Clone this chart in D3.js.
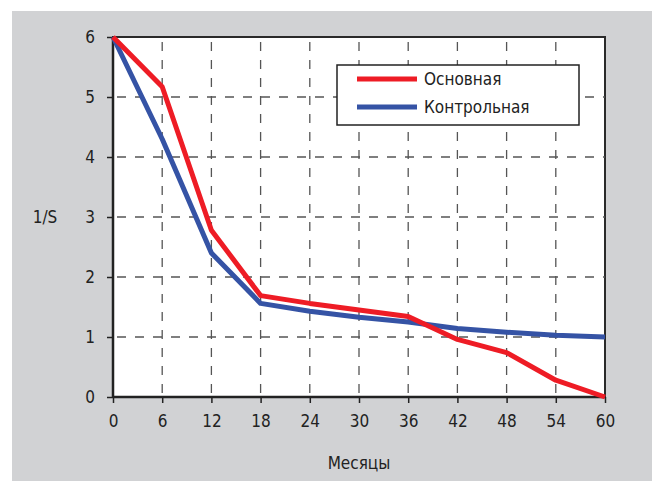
<!DOCTYPE html>
<html>
<head>
<meta charset="utf-8">
<script src="https://cdn.jsdelivr.net/npm/d3@7"></script>
<style>
  body { margin: 0; background: #fff; }
  text { font-family: "Liberation Sans Narrow", "DejaVu Sans Condensed", "Roboto", sans-serif; fill: #222; }
</style>
</head>
<body>
<div class="viz"></div>
<script>
const w = 652;
const h = 481;

const months = [0, 6, 12, 18, 24, 30, 36, 42, 48, 54, 60];
const mainValues = [6, 5.17, 2.78, 1.69, 1.56, 1.45, 1.34, 0.96, 0.74, 0.28, 0];
const controlValues = [6, 4.3, 2.4, 1.56, 1.43, 1.33, 1.25, 1.14, 1.08, 1.03, 1.0];
const yTicks = [0, 1, 2, 3, 4, 5, 6];
const seriesNames = ["Основная", "Контрольная"];
const seriesColors = ["#ee1c25", "#3553a5"];

const svg = d3.select(".viz")
    .append("svg")
    .attr("width", w)
    .attr("height", h);

// grey panel
svg.append("rect")
    .attr("x", 12).attr("y", 11)
    .attr("width", w - 12).attr("height", h - 11)
    .style("fill", "#d1d2d4");

const x = d3.scaleLinear().domain([0, 60]).range([113, 605]);
const y = d3.scaleLinear().domain([0, 6]).range([397, 37]);

// plot area
svg.append("rect")
    .attr("x", x(0)).attr("y", y(6))
    .attr("width", x(60) - x(0)).attr("height", y(0) - y(6))
    .style("fill", "#fff")
    .style("stroke", "#2a2a2a")
    .style("stroke-width", 2);

// dashed grid
svg.selectAll(".vgrid")
    .data(months.slice(1, -1))
    .enter()
    .append("line")
    .attr("x1", d => x(d)).attr("x2", d => x(d))
    .attr("y1", y(0)).attr("y2", y(6))
    .style("stroke", "#555")
    .style("stroke-width", 1.3)
    .style("stroke-dasharray", "9,9")
    .style("stroke-dashoffset", -4);

svg.selectAll(".hgrid")
    .data(yTicks.slice(1, -1))
    .enter()
    .append("line")
    .attr("x1", x(0)).attr("x2", x(60))
    .attr("y1", d => y(d)).attr("y2", d => y(d))
    .style("stroke", "#555")
    .style("stroke-width", 1.3)
    .style("stroke-dasharray", "9,9")
    .style("stroke-dashoffset", -4);

// axes
const xAxis = d3.axisBottom(x).tickValues(months).tickSize(6).tickPadding(12);
const yAxis = d3.axisLeft(y).tickValues(yTicks).tickFormat(d3.format("d")).tickSize(6).tickPadding(12);

const gx = svg.append("g").attr("transform", `translate(0,${y(0)})`).call(xAxis);
const gy = svg.append("g").attr("transform", `translate(${x(0)},0)`).call(yAxis);

[gx, gy].forEach(g => {
    g.select(".domain").remove();
    g.selectAll(".tick line").style("stroke", "#222").style("stroke-width", 1.5);
    g.selectAll(".tick text").style("font-size", "17px").style("fill", "#222");
});

svg.append("line")
    .attr("x1", x(0)).attr("x2", x(60))
    .attr("y1", y(0)).attr("y2", y(0))
    .style("stroke", "#222").style("stroke-width", 2.5);
svg.append("line")
    .attr("x1", x(0)).attr("x2", x(0))
    .attr("y1", y(0)).attr("y2", y(6))
    .style("stroke", "#222").style("stroke-width", 2.5);

// lines
const line = d3.line()
    .x((d, i) => x(months[i]))
    .y(d => y(d));

[controlValues, mainValues].forEach((vals, k) => {
    svg.append("path")
        .datum(vals)
        .attr("d", line)
        .style("fill", "none")
        .style("stroke", seriesColors[1 - k])
        .style("stroke-width", 5)
        .style("stroke-linejoin", "round");
});

// legend
const legend = svg.append("g");
legend.append("rect")
    .attr("x", 337).attr("y", 65)
    .attr("width", 242).attr("height", 60)
    .style("fill", "#fff")
    .style("stroke", "#222")
    .style("stroke-width", 1.5);

seriesNames.forEach((name, i) => {
    const ly = 79 + i * 28;
    legend.append("line")
        .attr("x1", 357).attr("x2", 417)
        .attr("y1", ly).attr("y2", ly)
        .style("stroke", seriesColors[i])
        .style("stroke-width", 5);
    legend.append("text")
        .attr("x", 424).attr("y", ly + 6)
        .style("font-size", "17px")
        .text(name);
});

// axis titles
svg.append("text")
    .attr("x", x(30)).attr("y", 469)
    .attr("text-anchor", "middle")
    .style("font-size", "17px")
    .text("Месяцы");

svg.append("text")
    .attr("x", 45).attr("y", y(3) + 6)
    .attr("text-anchor", "middle")
    .style("font-size", "17px")
    .text("1/S");
</script>
</body>
</html>
